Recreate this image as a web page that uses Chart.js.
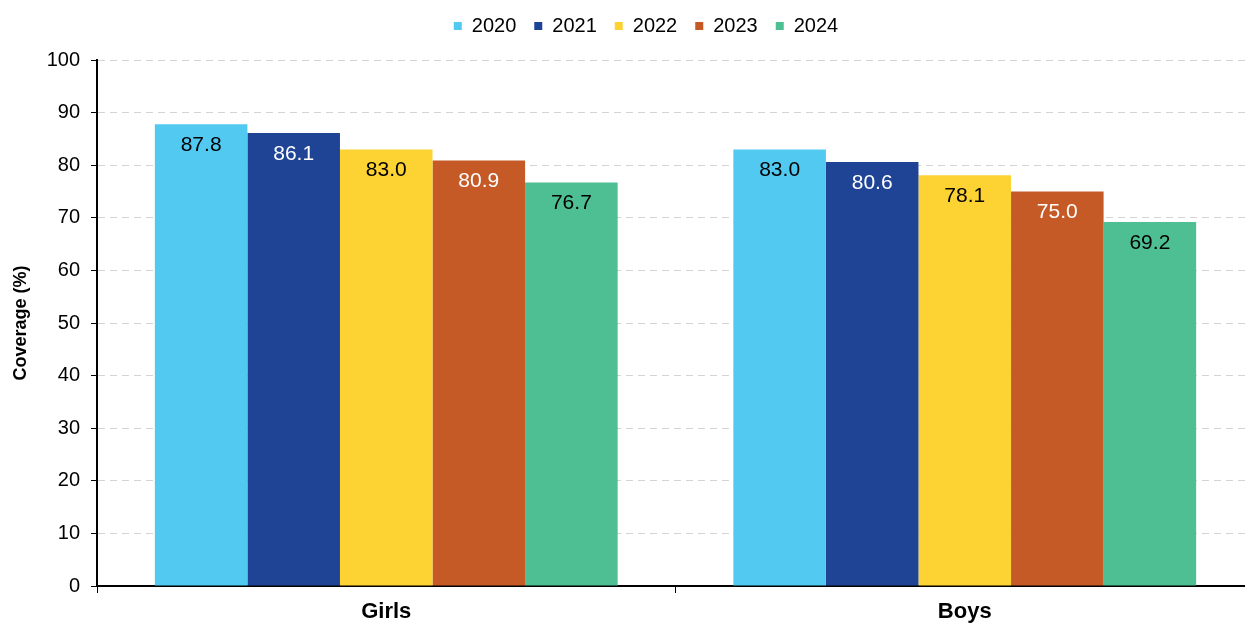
<!DOCTYPE html>
<html>
<head>
<meta charset="utf-8">
<script src="https://cdn.jsdelivr.net/npm/chart.js@4/dist/chart.umd.min.js"></script>
<style>
  html, body { margin: 0; padding: 0; background: #fff; overflow: hidden; }
  #wrap { width: 1254px; height: 626px; }
</style>
</head>
<body>
<div id="wrap"><canvas id="coverageChart"></canvas></div>
<script>
// Coverage by sex and year
const categories = ['Girls', 'Boys'];
const years = ['2020', '2021', '2022', '2023', '2024'];
const values2020 = [87.8, 83.0];
const values2021 = [86.1, 80.6];
const values2022 = [83.0, 78.1];
const values2023 = [80.9, 75.0];
const values2024 = [76.7, 69.2];
const yTicks = [0, 10, 20, 30, 40, 50, 60, 70, 80, 90, 100];

const seriesValues = [values2020, values2021, values2022, values2023, values2024];
const barColors = ['#51C9F1', '#1F4496', '#FDD233', '#C65A26', '#4EBF93'];
const labelColors = ['#000', '#fff', '#000', '#fff', '#000'];

const FONT = '"Liberation Sans", Arial, sans-serif';

// Draw the value inside the top of each bar
const valueLabels = {
    id: 'valueLabels',
    afterDatasetsDraw(chart) {
        const ctx = chart.ctx;
        ctx.save();
        ctx.font = '21px ' + FONT;
        ctx.textAlign = 'center';
        ctx.textBaseline = 'middle';
        chart.data.datasets.forEach((ds, i) => {
            const meta = chart.getDatasetMeta(i);
            meta.data.forEach((bar, j) => {
                ctx.fillStyle = labelColors[i];
                ctx.fillText(ds.data[j].toFixed(1), bar.x, bar.y + 21);
            });
        });
        ctx.restore();
    }
};

// Leave extra room under the legend row and nudge it right
const legendGap = {
    id: 'legendGap',
    beforeLayout(chart) {
        const lg = chart.legend;
        if (lg && !lg._gapAdded) {
            const fit = lg.fit.bind(lg);
            lg.fit = function () {
                fit();
                this.height += 14;
            };
            lg._gapAdded = true;
        }
    },
    afterLayout(chart) {
        const lg = chart.legend;
        if (lg) {
            lg.left += 19;
            lg.right += 19;
        }
    }
};

function generateChart() {
    const ctx = document.getElementById('coverageChart').getContext('2d');

    const chartData = {
        labels: categories,
        datasets: years.map((y, i) => ({
            label: y,
            data: seriesValues[i],
            backgroundColor: barColors[i],
            borderWidth: 0,
            categoryPercentage: 0.8,
            barPercentage: 1.0
        }))
    };

    const chartOptions = {
        responsive: true,
        maintainAspectRatio: false,
        animation: false,
        layout: { padding: { top: -2, right: 0, left: 0, bottom: 0 } },
        plugins: {
            tooltip: { enabled: false },
            legend: {
                position: 'top',
                labels: {
                    boxWidth: 8,
                    boxHeight: 8,
                    padding: 18,
                    color: '#000',
                    font: { family: FONT, size: 20 }
                }
            }
        },
        scales: {
            x: {
                afterFit(axis) { axis.height = 40; },
                grid: {
                    offset: true,
                    drawOnChartArea: false,
                    drawTicks: true,
                    tickLength: 7,
                    tickColor: '#000',
                    tickWidth: 1
                },
                border: { display: true, color: '#000', width: 2 },
                ticks: {
                    color: '#000',
                    padding: 6,
                    font: { family: FONT, size: 22, weight: 'bold' }
                }
            },
            y: {
                min: 0,
                max: 100,
                afterFit(axis) { axis.width = 97; },
                afterBuildTicks(axis) {
                    axis.ticks = yTicks.map(v => ({ value: v }));
                },
                grid: {
                    color: '#d4d4d4',
                    lineWidth: 1,
                    tickLength: 6,
                    tickColor: '#000',
                    tickWidth: 1
                },
                border: { display: true, color: '#000', width: 2, dash: [7, 5] },
                ticks: {
                    color: '#000',
                    padding: 11,
                    font: { family: FONT, size: 20 }
                },
                title: {
                    display: true,
                    text: 'Coverage (%)',
                    color: '#000',
                    padding: { top: 10, bottom: 0 },
                    font: { family: FONT, size: 18, weight: 'bold' }
                }
            }
        }
    };

    new Chart(ctx, {
        type: 'bar',
        data: chartData,
        options: chartOptions,
        plugins: [valueLabels, legendGap]
    });
}

generateChart();
</script>
</body>
</html>
